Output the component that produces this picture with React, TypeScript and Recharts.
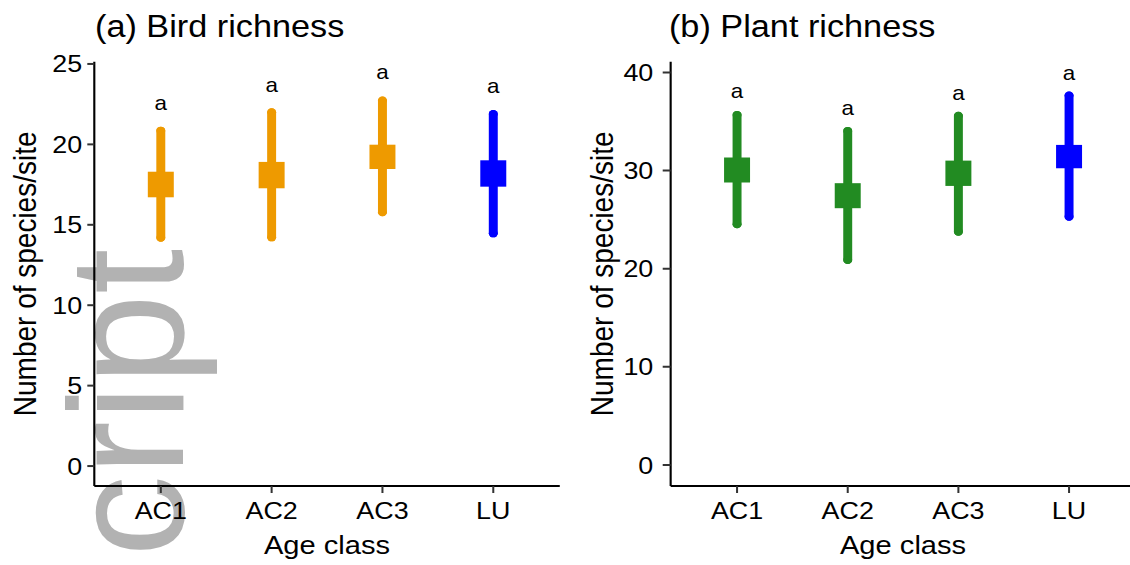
import React from 'react';
import { ComposedChart, Scatter, ErrorBar, XAxis, YAxis } from 'recharts';

// ---------- data ----------
const categories = ['AC1', 'AC2', 'AC3', 'LU'];

const birdWhiskerLow = [14.2, 14.22, 15.78, 14.47];
const birdWhiskerHigh = [20.85, 22.0, 22.72, 21.89];
const birdBoxLow = [16.71, 17.27, 18.47, 17.37];
const birdBoxHigh = [18.3, 18.91, 19.98, 19.01];
const birdLetterY = [22.43, 23.6, 24.37, 23.54];
const birdLetters = ['a', 'a', 'a', 'a'];
const birdColors = ['#EE9A00', '#EE9A00', '#EE9A00', '#0000FF'];
const birdTicks = [0, 5, 10, 15, 20, 25];

const plantWhiskerLow = [24.54, 20.9, 23.78, 25.31];
const plantWhiskerHigh = [35.68, 34.05, 35.58, 37.65];
const plantBoxLow = [28.78, 26.17, 28.44, 30.24];
const plantBoxHigh = [31.33, 28.72, 31.02, 32.62];
const plantLetterY = [37.89, 36.19, 37.72, 39.76];
const plantLetters = ['a', 'a', 'a', 'a'];
const plantColors = ['#228B22', '#228B22', '#228B22', '#0000FF'];
const plantTicks = [0, 10, 20, 30, 40];

const SX = 1.12;
const FONT = '"Liberation Sans", Arial, Helvetica, sans-serif';

type PanelProps = {
  width: number;
  margin: { top: number; right: number; bottom: number; left: number };
  yAxisWidth: number;
  yDomain: [number, number];
  yTicks: number[];
  yTickSize: number;
  yTickMargin: number;
  yLabelOffset: number;
  lo: number[];
  hi: number[];
  bLo: number[];
  bHi: number[];
  letterY: number[];
  letters: string[];
  colors: string[];
};

function Panel(p: PanelProps) {
  const rows = categories.map((c, i) => {
    const mid = (p.bLo[i] + p.bHi[i]) / 2;
    return {
      x: i + 1,
      y: mid,
      whisker: [mid - p.lo[i], p.hi[i] - mid],
      box: [mid - p.bLo[i], p.bHi[i] - mid],
      color: p.colors[i],
    };
  });
  const groups = Array.from(new Set(p.colors));
  const letterRows = categories.map((c, i) => ({ x: i + 1, y: p.letterY[i], text: p.letters[i] }));

  return (
    <ComposedChart width={p.width} height={565} margin={p.margin}>
      <XAxis
        type="number"
        dataKey="x"
        domain={[0.4, 4.6]}
        ticks={[1, 2, 3, 4]}
        interval={0}
        allowDataOverflow
        tickFormatter={(v: number) => categories[v - 1]}
        height={70}
        tickSize={7}
        tickMargin={8.7}
        tick={{ fill: '#000', fontSize: 24 }}
        axisLine={{ stroke: '#000', strokeWidth: 1.9 }}
        tickLine={{ stroke: '#333', strokeWidth: 1.8 }}
        label={{ value: 'Age class', position: 'insideBottom', offset: 2, style: { fontSize: 26, fill: '#000' } }}
      />
      <YAxis
        type="number"
        dataKey="y"
        domain={p.yDomain}
        ticks={p.yTicks}
        interval={0}
        allowDataOverflow
        width={p.yAxisWidth}
        tickSize={p.yTickSize}
        tickMargin={p.yTickMargin}
        tick={{ fill: '#000', fontSize: 24 }}
        axisLine={{ stroke: '#000', strokeWidth: 1.9 }}
        tickLine={{ stroke: '#333', strokeWidth: 2 }}
        label={{
          value: 'Number of species/site',
          angle: -90,
          position: 'insideLeft',
          offset: p.yLabelOffset,
          style: { textAnchor: 'middle', fontSize: 28, fill: '#000' },
        }}
      />
      {groups.map((col) => (
        <Scatter
          key={col}
          data={rows.filter((r) => r.color === col)}
          isAnimationActive={false}
          fill={col}
          shape={() => <g />}
        >
          <ErrorBar
            dataKey="whisker"
            direction="y"
            width={0}
            stroke={col}
            strokeWidth={8}
            strokeLinecap="round"
            isAnimationActive={false}
          />
          <ErrorBar
            dataKey="box"
            direction="y"
            width={0}
            stroke={col}
            strokeWidth={23.2}
            isAnimationActive={false}
          />
        </Scatter>
      ))}
      <Scatter
        data={letterRows}
        isAnimationActive={false}
        fill="#000"
        shape={(s: any) => (
          <text x={s.cx} y={s.cy} dy={5.2} textAnchor="middle" fontSize={20} fill="#000">
            {s.payload.text}
          </text>
        )}
      />
    </ComposedChart>
  );
}

export default function App() {
  return (
    <div
      style={{
        position: 'absolute',
        left: 0,
        top: 0,
        width: 1130,
        height: 565,
        overflow: 'hidden',
        background: '#fff',
        fontFamily: FONT,
      }}
    >
      <svg width={1130} height={565} style={{ position: 'absolute', left: 0, top: 0 }}>
        <text
          transform="translate(183,556.7) rotate(-90)"
          textAnchor="start"
          fontFamily={FONT}
          fontSize={163}
          fill="#b2b2b2"
        >
          cript
        </text>
      </svg>
      <div
        style={{
          position: 'absolute',
          left: 0,
          top: 0,
          width: 1020,
          height: 565,
          transform: `scaleX(${SX})`,
          transformOrigin: '0 0',
        }}
      >
        <svg width={1020} height={565} style={{ position: 'absolute', left: 0, top: 0 }}>
          <text x={84.8} y={37.5} fontSize={30.6} fill="#000">
            (a) Bird richness
          </text>
          <text x={597.3} y={37.5} fontSize={30.6} fill="#000">
            (b) Plant richness
          </text>
        </svg>
        <div style={{ position: 'absolute', left: 0, top: 0 }}>
          <Panel
            width={520}
            margin={{ top: 61.7, right: 20.2, bottom: 9, left: 5 }}
            yAxisWidth={79.2}
            yDomain={[-1.24, 25.14]}
            yTicks={birdTicks}
            yTickSize={6.25}
            yTickMargin={4.5}
            yLabelOffset={17.3}
            lo={birdWhiskerLow}
            hi={birdWhiskerHigh}
            bLo={birdBoxLow}
            bHi={birdBoxHigh}
            letterY={birdLetterY}
            letters={birdLetters}
            colors={birdColors}
          />
        </div>
        <div style={{ position: 'absolute', left: 520, top: 0 }}>
          <Panel
            width={500}
            margin={{ top: 61.7, right: 6.2, bottom: 9, left: 5 }}
            yAxisWidth={73.8}
            yDomain={[-2.14, 41.1]}
            yTicks={plantTicks}
            yTickSize={7.1}
            yTickMargin={8.4}
            yLabelOffset={12.5}
            lo={plantWhiskerLow}
            hi={plantWhiskerHigh}
            bLo={plantBoxLow}
            bHi={plantBoxHigh}
            letterY={plantLetterY}
            letters={plantLetters}
            colors={plantColors}
          />
        </div>
      </div>
    </div>
  );
}
